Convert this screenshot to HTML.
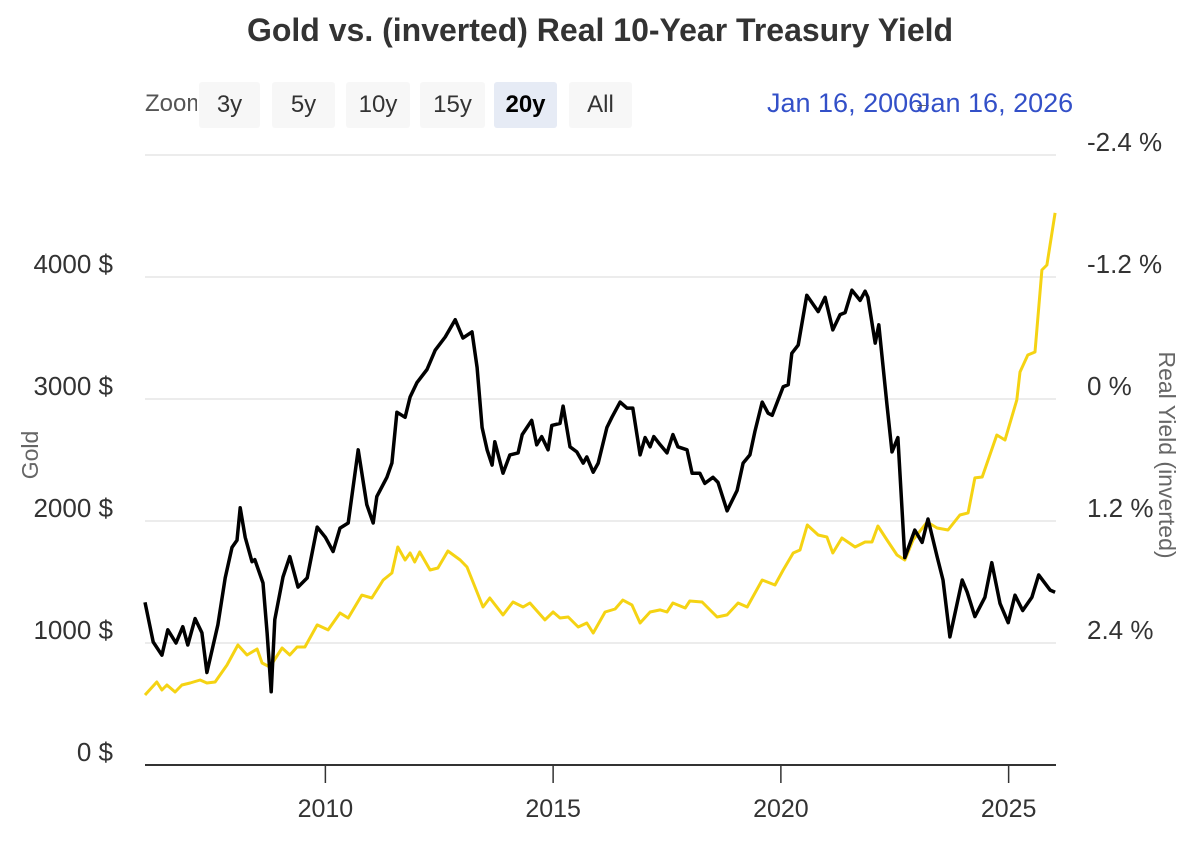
<!DOCTYPE html>
<html><head><meta charset="utf-8">
<style>
body{margin:0;background:#fff;font-family:"Liberation Sans",Arial,sans-serif;}
#wrap{position:relative;width:1200px;height:850px;overflow:hidden;}
.btn{position:absolute;top:82px;height:46px;background:#f7f7f7;border-radius:3px;font-size:24px;color:#333;text-align:center;line-height:46px;}
</style></head>
<body>
<div id="wrap">
<div style="position:absolute;left:0;width:1200px;top:12px;text-align:center;font-size:32px;font-weight:bold;color:#333;">Gold vs. (inverted) Real 10-Year Treasury Yield</div>
<div style="position:absolute;left:145px;top:81px;width:52px;overflow:hidden;white-space:nowrap;font-size:24px;line-height:46px;color:#555;">Zoom</div>
<div class="btn" style="left:199px;width:61px;">3y</div>
<div class="btn" style="left:272px;width:63px;">5y</div>
<div class="btn" style="left:346px;width:64px;">10y</div>
<div class="btn" style="left:420px;width:65px;">15y</div>
<div class="btn" style="left:494px;width:63px;background:#e6ebf5;font-weight:bold;color:#000;">20y</div>
<div class="btn" style="left:569px;width:63px;">All</div>
<div style="position:absolute;left:767px;top:80px;line-height:46px;font-size:27px;color:#3350c8;white-space:nowrap;">Jan 16, 2006</div>
<div style="position:absolute;left:913px;top:80px;line-height:46px;font-size:20px;color:#555;">→</div>
<div style="position:absolute;left:917px;top:80px;line-height:46px;font-size:27px;color:#3350c8;white-space:nowrap;">Jan 16, 2026</div>
<svg id="chart" width="1200" height="850" style="position:absolute;left:0;top:0;"></svg>
</div>
<script>
const goldDates=[2006.04,2006.30,2006.41,2006.52,2006.70,2006.85,2007.03,2007.25,2007.40,2007.58,2007.84,2008.08,2008.28,2008.50,2008.61,2008.78,2009.05,2009.22,2009.38,2009.55,2009.82,2010.06,2010.32,2010.50,2010.80,2011.02,2011.27,2011.46,2011.59,2011.75,2011.86,2011.96,2012.07,2012.30,2012.47,2012.69,2012.96,2013.11,2013.46,2013.61,2013.90,2014.12,2014.34,2014.49,2014.82,2015.00,2015.15,2015.33,2015.55,2015.74,2015.88,2016.14,2016.36,2016.53,2016.73,2016.91,2017.13,2017.35,2017.50,2017.63,2017.90,2018.00,2018.27,2018.60,2018.82,2019.06,2019.26,2019.59,2019.87,2020.05,2020.27,2020.42,2020.58,2020.82,2021.01,2021.14,2021.34,2021.63,2021.85,2022.00,2022.13,2022.33,2022.55,2022.72,2022.90,2023.21,2023.43,2023.67,2023.93,2024.11,2024.26,2024.42,2024.74,2024.92,2025.18,2025.25,2025.42,2025.58,2025.73,2025.84,2026.02];
const goldValues=[574,680,615,656,598,656,672,697,672,680,820,984,902,951,836,803,959,902,967,967,1148,1107,1246,1205,1393,1369,1516,1574,1787,1680,1738,1664,1746,1598,1615,1754,1680,1623,1295,1369,1230,1336,1295,1328,1189,1254,1205,1213,1131,1164,1082,1254,1279,1352,1312,1164,1254,1271,1254,1328,1287,1344,1336,1213,1230,1328,1295,1516,1475,1598,1738,1762,1967,1885,1869,1738,1861,1787,1828,1828,1959,1844,1721,1680,1844,1992,1943,1926,2049,2066,2353,2361,2705,2664,2992,3221,3361,3385,4057,4098,4525];
const yieldDates=[2006.04,2006.22,2006.41,2006.54,2006.72,2006.87,2006.98,2007.14,2007.29,2007.40,2007.64,2007.80,2007.95,2008.06,2008.13,2008.24,2008.39,2008.45,2008.63,2008.72,2008.81,2008.89,2009.07,2009.22,2009.40,2009.60,2009.82,2010.00,2010.17,2010.32,2010.50,2010.72,2010.91,2011.05,2011.13,2011.35,2011.46,2011.57,2011.75,2011.86,2012.01,2012.23,2012.41,2012.63,2012.85,2013.02,2013.22,2013.33,2013.44,2013.55,2013.66,2013.72,2013.90,2014.05,2014.23,2014.32,2014.53,2014.64,2014.75,2014.89,2014.97,2015.15,2015.22,2015.37,2015.52,2015.66,2015.74,2015.88,2015.99,2016.18,2016.29,2016.47,2016.62,2016.75,2016.91,2017.02,2017.13,2017.21,2017.35,2017.50,2017.63,2017.74,2017.94,2018.05,2018.22,2018.33,2018.51,2018.62,2018.82,2019.04,2019.17,2019.32,2019.43,2019.59,2019.72,2019.81,2020.05,2020.16,2020.24,2020.38,2020.57,2020.82,2020.97,2021.14,2021.30,2021.41,2021.56,2021.74,2021.85,2021.91,2022.07,2022.15,2022.33,2022.44,2022.57,2022.72,2022.94,2023.10,2023.23,2023.43,2023.56,2023.71,2023.98,2024.09,2024.26,2024.48,2024.63,2024.81,2024.99,2025.14,2025.31,2025.51,2025.66,2025.91,2026.02];
const yieldValues=[2.00,2.39,2.52,2.27,2.40,2.24,2.42,2.16,2.30,2.69,2.22,1.76,1.46,1.39,1.07,1.36,1.60,1.58,1.81,2.30,2.88,2.17,1.75,1.55,1.85,1.76,1.26,1.36,1.50,1.27,1.22,0.50,1.04,1.22,0.96,0.77,0.63,0.13,0.18,-0.02,-0.16,-0.29,-0.48,-0.61,-0.78,-0.60,-0.66,-0.31,0.28,0.50,0.65,0.42,0.73,0.55,0.53,0.35,0.21,0.45,0.37,0.50,0.26,0.24,0.07,0.47,0.52,0.63,0.57,0.72,0.63,0.28,0.18,0.03,0.09,0.09,0.55,0.38,0.47,0.37,0.45,0.53,0.35,0.47,0.50,0.73,0.73,0.83,0.77,0.82,1.10,0.90,0.63,0.55,0.32,0.03,0.14,0.16,-0.12,-0.14,-0.45,-0.53,-1.02,-0.86,-1.00,-0.68,-0.83,-0.85,-1.07,-0.97,-1.06,-1.00,-0.55,-0.73,0.06,0.52,0.38,1.56,1.29,1.41,1.18,1.55,1.78,2.34,1.78,1.90,2.14,1.95,1.61,2.01,2.20,1.93,2.08,1.95,1.73,1.88,1.90];
const xTickYears=[2010,2015,2020,2025];
const goldTicks=[0,1000,2000,3000,4000];
const yieldTicks=[-2.4,-1.2,0,1.2,2.4];
const gridGold=[0,1000,2000,3000,4000,5000];

const L=145,R=1056,T=155,B=765;
const X0=2006.04,X1=2026.04;
const xS=t=>L+(t-X0)/(X1-X0)*(R-L);
const yG=v=>B-v/5000*(B-T);
const yY=r=>399+r*(122/1.2);
const svg=document.getElementById('chart');
const NS='http://www.w3.org/2000/svg';
function mk(tag,attrs,parent){const e=document.createElementNS(NS,tag);for(const k in attrs)e.setAttribute(k,attrs[k]);(parent||svg).appendChild(e);return e;}

gridGold.forEach(v=>{if(v===0)return;const g=mk('line',{x1:L,x2:R,y1:yG(v),y2:yG(v),stroke:'#e6e6e6','stroke-width':1.5});

});
goldTicks.forEach(v=>{const t=mk('text',{x:113,y:yG(v)-4,'text-anchor':'end','font-size':26,fill:'#333','font-family':'Liberation Sans, sans-serif'});t.textContent=v+' $';

});
yieldTicks.forEach(v=>{const t=mk('text',{x:1087,y:yY(v)-4,'font-size':26,fill:'#333','font-family':'Liberation Sans, sans-serif'});t.textContent=(v>0?v:v===0?'0':'-'+Math.abs(v))+' %';

});
const ax=mk('line',{x1:L,x2:R,y1:B,y2:B,stroke:'#333','stroke-width':2});


xTickYears.forEach(yr=>{const x=xS(yr);const tk=mk('line',{x1:x,x2:x,y1:B,y2:B+18,stroke:'#333','stroke-width':1.5});


const t=mk('text',{x:x,y:817,'text-anchor':'middle','font-size':25,fill:'#333','font-family':'Liberation Sans, sans-serif'});t.textContent=yr;

});
const gt=mk('text',{x:0,y:0,transform:'translate(38,455) rotate(-90)','text-anchor':'middle','font-size':23,fill:'#666','font-family':'Liberation Sans, sans-serif'});gt.textContent='Gold';


const yt=mk('text',{x:0,y:0,transform:'translate(1159,455) rotate(90)','text-anchor':'middle','font-size':23,fill:'#666','font-family':'Liberation Sans, sans-serif'});yt.textContent='Real Yield (inverted)';



const gp=mk('path',{d:goldDates.map((d,i)=>(i?'L':'M')+xS(d).toFixed(1)+','+yG(goldValues[i]).toFixed(1)).join(''),fill:'none',stroke:'#f5d313','stroke-width':3,'stroke-linejoin':'round'});


const yp=mk('path',{d:yieldDates.map((d,i)=>(i?'L':'M')+xS(d).toFixed(1)+','+yY(yieldValues[i]).toFixed(1)).join(''),fill:'none',stroke:'#000','stroke-width':3.5,'stroke-linejoin':'round'});


</script>
</body></html>
